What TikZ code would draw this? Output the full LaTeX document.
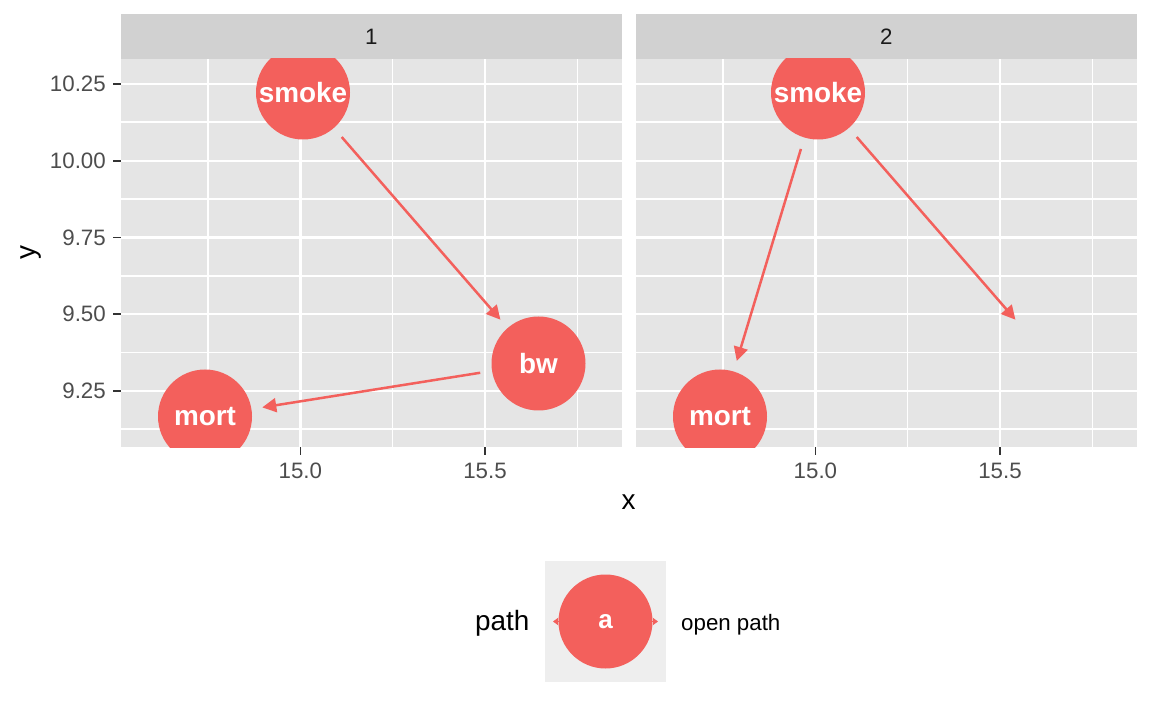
\documentclass[tikz,border=0pt]{standalone}
\usepackage{fontspec}
\setmainfont{Liberation Sans}
\usetikzlibrary{arrows.meta}
\definecolor{nodecol}{HTML}{F3605C}
\definecolor{panelbg}{HTML}{E5E5E5}
\definecolor{stripbg}{HTML}{D1D1D1}
\definecolor{keybg}{HTML}{EEEEEE}
\definecolor{ticktxt}{HTML}{4D4D4D}
\definecolor{tickcol}{HTML}{333333}
\definecolor{striptxt}{HTML}{1A1A1A}
\newcommand\mysmallfont{\fontsize{22.3}{26}\selectfont}
\newcommand\mybigfont{\fontsize{27.9}{32}\selectfont}
\tikzset{
  dagnode/.style={circle, fill=nodecol, minimum size=94pt, inner sep=0pt, outer sep=0pt,
    text=white, font=\mybigfont\bfseries},
  edge/.style={draw=nodecol, line width=2.5pt, shorten <=12pt, shorten >=11pt,
    -{Triangle[length=14pt,width=14pt]}},
  majorgrid/.style={draw=white, line width=2.6pt},
  minorgrid/.style={draw=white, line width=1.3pt},
  ticklab/.style={text=ticktxt, font=\mysmallfont, inner sep=0pt},
  tickmark/.style={draw=tickcol, line width=1.6pt},
  striplab/.style={text=striptxt, font=\mysmallfont, inner sep=0pt},
  axtitle/.style={text=black, font=\mybigfont, inner sep=0pt}
}
\begin{document}
\begin{tikzpicture}[x=1pt,y=-1pt]
\useasboundingbox (0,0) rectangle (1152,711);
\fill[white] (0,0) rectangle (1152,711);
% panels backgrounds and grids
\foreach \ox/\lab in {0/1,515/2}{
  \fill[panelbg] (121+\ox,59) rectangle (621.5+\ox,447);
  \foreach \yy in {122,199,276,352.5,429}
    \draw[minorgrid] (121+\ox,\yy) -- (621.5+\ox,\yy);
  \foreach \xx in {208,392.7,577.3}
    \draw[minorgrid] (\xx+\ox,59) -- (\xx+\ox,447);
  \foreach \yy in {84,161,237.5,314,391}
    \draw[majorgrid] (121+\ox,\yy) -- (621.5+\ox,\yy);
  \foreach \xx in {300.4,485}
    \draw[majorgrid] (\xx+\ox,59) -- (\xx+\ox,447);
  \fill[stripbg] (121+\ox,14) rectangle (621.5+\ox,59);
  \node[striplab] (strip\lab) at (371.25+\ox,36.5) {\lab};
  % x ticks
  \draw[tickmark] (300.4+\ox,447) -- (300.4+\ox,455);
  \draw[tickmark] (485+\ox,447) -- (485+\ox,455);
  \node[ticklab, anchor=base] (xa\lab) at (300.4+\ox,478) {15.0};
  \node[ticklab, anchor=base] (xb\lab) at (485+\ox,478) {15.5};
}
% y ticks
\foreach \yy/\t in {84/10.25,161/10.00,237.5/9.75,314/9.50,391/9.25}{
  \draw[tickmark] (113,\yy) -- (121,\yy);
  \node[ticklab, anchor=east] (yl\t) at (106,\yy) {\t};
}
% axis titles
\node[axtitle, rotate=90] (ytitle) at (31,253) {y};
\node[axtitle] (xtitle) at (628.5,502) {x};

% panel 1
\begin{scope}
  \clip (121,59) rectangle (621.5,447);
  \node[dagnode] (smokeA) at (303,92.5) {smoke};
  \node[dagnode] (bwA) at (538.5,363.5) {bw};
  \node[dagnode] (mortA) at (205,416.5) {mort};
\end{scope}
\draw[edge] (smokeA) -- (bwA);
\draw[edge] (bwA) -- (mortA);

% panel 2
\begin{scope}
  \clip (636,59) rectangle (1136.5,447);
  \node[dagnode] (smokeB) at (818,92.5) {smoke};
  \node[dagnode] (mortB) at (720,416.5) {mort};
  \coordinate (bwB) at (1053.5,363.5);
\end{scope}
\draw[edge] (smokeB) -- (mortB);
\draw[edge, shorten >=58pt] (smokeB) -- (bwB);

% legend
\node[axtitle, anchor=base west] (legtitle) at (475,630) {path};
\fill[keybg] (545,561) rectangle (666,682);
\coordinate (kl) at (553,621.5);
\coordinate (kr) at (658,621.5);
\draw[nodecol, line width=1pt, {Triangle[length=5pt,width=7pt]}-{Triangle[length=5pt,width=7pt]}] (kl) -- (kr);
\node[dagnode, font=\fontsize{26}{30}\selectfont\bfseries] (keya) at (605.5,621.5) {a};
\node[ticklab, text=black, anchor=base west] (legtext) at (681,630) {open path};
\end{tikzpicture}
\end{document}
